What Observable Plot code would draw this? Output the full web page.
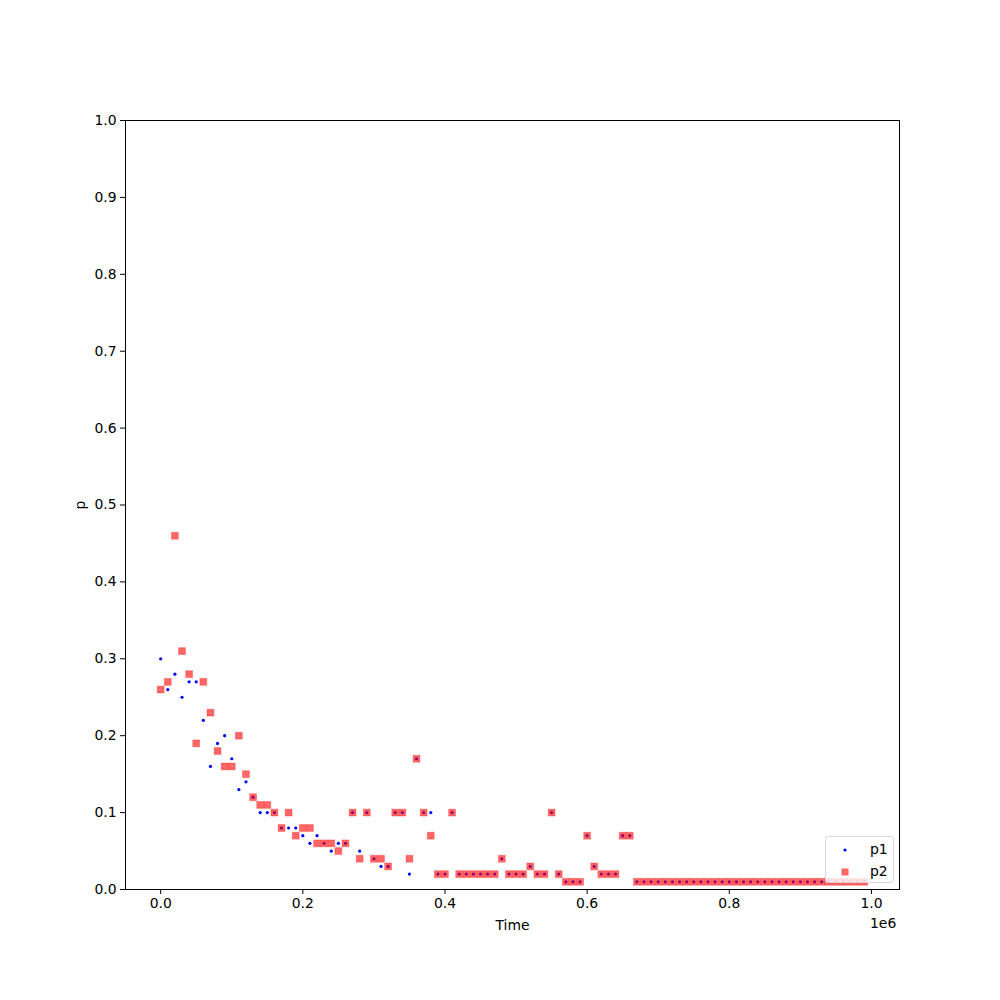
<!DOCTYPE html>
<html><head><meta charset="utf-8">
<script src="https://cdn.jsdelivr.net/npm/d3@7"></script>
<script src="https://cdn.jsdelivr.net/npm/@observablehq/plot@0.6"></script>
<style>
body{margin:0;background:#fff;}
#wrap{position:relative;width:1000px;height:1000px;font-family:"DejaVu Sans",sans-serif;color:#000;}
#legend{position:absolute;left:825px;top:836px;width:67px;height:45px;border:1px solid #d9d9d9;border-radius:3px;background:rgba(255,255,255,0.8);font-size:13.9px;}
.lg{position:absolute;left:0;width:66px;height:20px;}
.lg svg{position:absolute;left:12px;top:4px;}
.lg span{position:absolute;left:44px;top:1px;line-height:18px;}
#offset{position:absolute;left:870px;top:915px;font-size:13.9px;}
</style></head><body><div id="wrap"></div>
<script>
const time = [0,10000,20000,30000,40000,50000,60000,70000,80000,90000,
100000,110000,120000,130000,140000,150000,160000,170000,180000,190000,
200000,210000,220000,230000,240000,250000,260000,270000,280000,290000,
300000,310000,320000,330000,340000,350000,360000,370000,380000,390000,
400000,410000,420000,430000,440000,450000,460000,470000,480000,490000,
500000,510000,520000,530000,540000,550000,560000,570000,580000,590000,
600000,610000,620000,630000,640000,650000,660000,670000,680000,690000,
700000,710000,720000,730000,740000,750000,760000,770000,780000,790000,
800000,810000,820000,830000,840000,850000,860000,870000,880000,890000,
900000,910000,920000,930000,940000,950000,960000,970000,980000,990000];
const p1 = [0.30,0.26,0.28,0.25,0.27,0.27,0.22,0.16,0.19,0.20,
0.17,0.13,0.14,0.12,0.10,0.10,0.10,0.08,0.08,0.08,
0.07,0.06,0.07,0.06,0.05,0.06,0.06,0.10,0.05,0.10,
0.04,0.03,0.03,0.10,0.10,0.02,0.17,0.10,0.10,0.02,
0.02,0.10,0.02,0.02,0.02,0.02,0.02,0.02,0.04,0.02,
0.02,0.02,0.03,0.02,0.02,0.10,0.02,0.01,0.01,0.01,
0.07,0.03,0.02,0.02,0.02,0.07,0.07,0.01,0.01,0.01,
0.01,0.01,0.01,0.01,0.01,0.01,0.01,0.01,0.01,0.01,
0.01,0.01,0.01,0.01,0.01,0.01,0.01,0.01,0.01,0.01,
0.01,0.01,0.01,0.01,0.01,0.01,0.01,0.01,0.01,0.01];
const p2 = [0.26,0.27,0.46,0.31,0.28,0.19,0.27,0.23,0.18,0.16,
0.16,0.20,0.15,0.12,0.11,0.11,0.10,0.08,0.10,0.07,
0.08,0.08,0.06,0.06,0.06,0.05,0.06,0.10,0.04,0.10,
0.04,0.04,0.03,0.10,0.10,0.04,0.17,0.10,0.07,0.02,
0.02,0.10,0.02,0.02,0.02,0.02,0.02,0.02,0.04,0.02,
0.02,0.02,0.03,0.02,0.02,0.10,0.02,0.01,0.01,0.01,
0.07,0.03,0.02,0.02,0.02,0.07,0.07,0.01,0.01,0.01,
0.01,0.01,0.01,0.01,0.01,0.01,0.01,0.01,0.01,0.01,
0.01,0.01,0.01,0.01,0.01,0.01,0.01,0.01,0.01,0.01,
0.01,0.01,0.01,0.01,0.01,0.01,0.01,0.01,0.01,0.01];
const xTicks = [0,200000,400000,600000,800000,1000000];
const yTicks = [0,0.1,0.2,0.3,0.4,0.5,0.6,0.7,0.8,0.9,1.0];
const seriesNames = ["p1","p2"];
const seriesColors = ["blue","red"];

const data = time.map((t,i)=>({t, p1:p1[i], p2:p2[i]}));

const chart = Plot.plot({
  width:1000, height:1000,
  marginLeft:125, marginRight:101, marginTop:120, marginBottom:111,
  style:{fontFamily:"DejaVu Sans", fontSize:"13.9px", color:"black", background:"white", overflow:"visible"},
  x:{domain:[-49500,1039500]},
  y:{domain:[0,1]},
  marks:[
    Plot.axisX({ticks:xTicks, tickFormat:d=>(d/1e6).toFixed(1), tickSize:5, tickPadding:4, label:"Time", labelAnchor:"center", labelArrow:"none", labelOffset:40}),
    Plot.axisY({ticks:yTicks, tickFormat:d=>d.toFixed(1), tickSize:5, tickPadding:4, label:"p", labelAnchor:"center", labelArrow:"none", labelOffset:50}),
    Plot.dot(data, {x:"t", y:"p1", r:1.6, fill:seriesColors[0], stroke:"none"}),
    Plot.dot(data, {x:"t", y:"p2", symbol:"square", r:3.9, fill:seriesColors[1], fillOpacity:0.6, stroke:seriesColors[1], strokeOpacity:0.25, strokeWidth:1}),
    Plot.frame({stroke:"black", strokeWidth:1})
  ]
});
const wrap = document.getElementById("wrap");
wrap.appendChild(chart);
const off = document.createElement("div");
off.id="offset"; off.textContent="1e6"; wrap.appendChild(off);
const lg = document.createElement("div"); lg.id="legend";
lg.innerHTML = `
<div class="lg" style="top:2px"><svg width="14" height="14"><circle cx="7" cy="7" r="1.6" fill="${seriesColors[0]}"/></svg><span>${seriesNames[0]}</span></div>
<div class="lg" style="top:24px"><svg width="14" height="14"><rect x="3.5" y="3.5" width="7" height="7" fill="${seriesColors[1]}" fill-opacity="0.6"/></svg><span>${seriesNames[1]}</span></div>`;
wrap.appendChild(lg);
</script></body></html>
